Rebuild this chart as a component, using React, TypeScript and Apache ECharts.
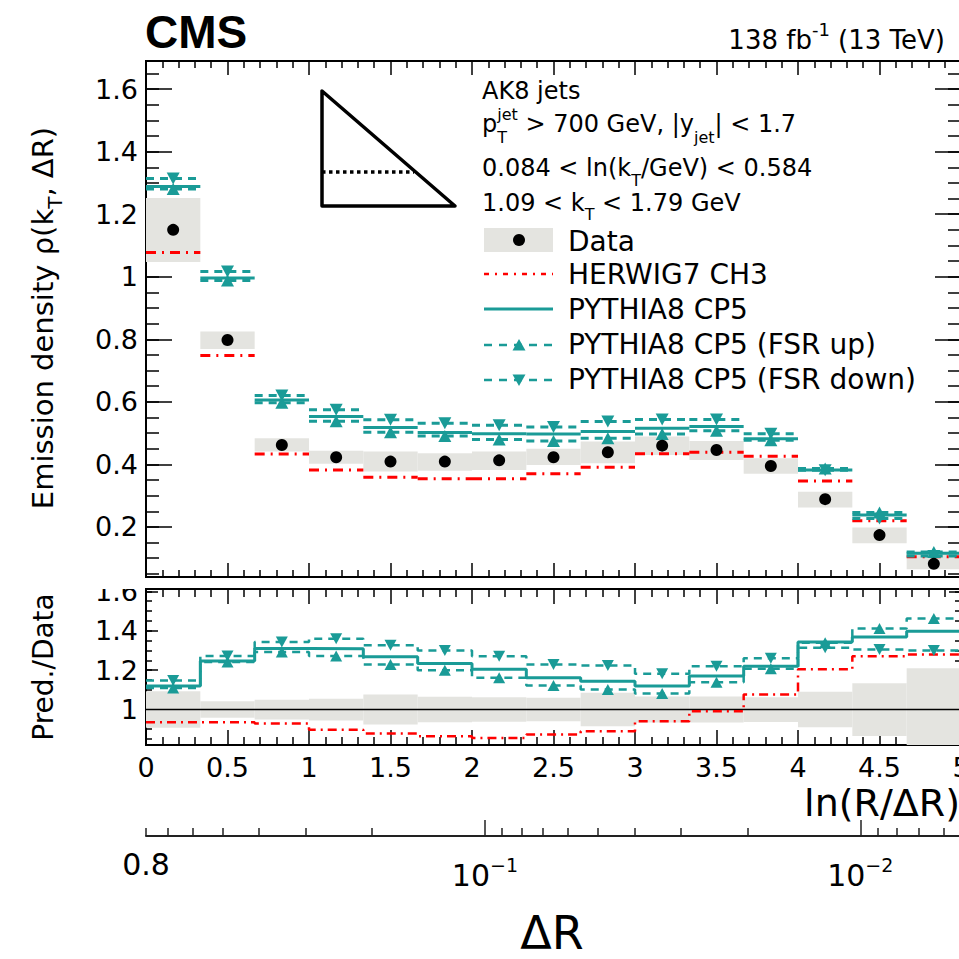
import React, { useEffect, useRef } from "react";
import * as echarts from "echarts";

const FONT = '"DejaVu Sans", sans-serif';
const CMS_FONT = '"Liberation Sans", Arial, sans-serif';
const TEAL = "#1a9b97";
const RED = "#ff0000";
const GREY = "#e4e4e0";

// ---------- data ----------
// bin edges in ln(R/ΔR)
const binEdges = [0, 0.3333, 0.6667, 1, 1.3333, 1.6667, 2, 2.3333, 2.6667, 3, 3.3333, 3.6667, 4, 4.3333, 4.6667, 5];

// upper panel: emission density
const dataVal = [1.150, 0.798, 0.462, 0.423, 0.409, 0.409, 0.413, 0.423, 0.439, 0.460, 0.446, 0.395, 0.289, 0.174, 0.082];
const dataLow = [1.047, 0.769, 0.441, 0.402, 0.377, 0.380, 0.382, 0.398, 0.404, 0.430, 0.414, 0.370, 0.262, 0.148, 0.065];
const dataHigh = [1.252, 0.825, 0.484, 0.444, 0.441, 0.436, 0.441, 0.450, 0.473, 0.489, 0.475, 0.420, 0.313, 0.198, 0.121];
const herwig = [1.078, 0.748, 0.433, 0.382, 0.359, 0.354, 0.354, 0.370, 0.391, 0.434, 0.439, 0.426, 0.347, 0.220, 0.105];
const pythia = [1.289, 0.996, 0.606, 0.553, 0.518, 0.502, 0.498, 0.497, 0.505, 0.516, 0.521, 0.482, 0.382, 0.238, 0.116];
const fsrUp = [1.281, 0.988, 0.597, 0.538, 0.503, 0.491, 0.480, 0.475, 0.484, 0.497, 0.508, 0.477, 0.387, 0.246, 0.120];
const fsrDown = [1.314, 1.017, 0.620, 0.575, 0.543, 0.532, 0.525, 0.520, 0.537, 0.544, 0.544, 0.498, 0.381, 0.227, 0.107];

// lower panel: prediction / data
const ratioUnc = [0.093, 0.042, 0.050, 0.055, 0.076, 0.065, 0.062, 0.060, 0.085, 0.066, 0.066, 0.063, 0.090, 0.134, 0.210];
const ratioHerwig = [0.935, 0.935, 0.929, 0.898, 0.878, 0.864, 0.856, 0.873, 0.890, 0.941, 0.991, 1.076, 1.204, 1.271, 1.280];
const ratioPythia = [1.120, 1.246, 1.310, 1.309, 1.268, 1.234, 1.204, 1.161, 1.144, 1.119, 1.170, 1.220, 1.343, 1.368, 1.398];
const ratioFsrUp = [1.110, 1.241, 1.292, 1.272, 1.229, 1.200, 1.161, 1.122, 1.102, 1.081, 1.139, 1.207, 1.339, 1.411, 1.462];
const ratioFsrDown = [1.148, 1.272, 1.343, 1.360, 1.327, 1.300, 1.271, 1.229, 1.224, 1.182, 1.220, 1.260, 1.314, 1.305, 1.300];

// ticks
const mainYTicks = [0.2, 0.4, 0.6, 0.8, 1.0, 1.2, 1.4, 1.6];
const mainYLabels = ["0.2", "0.4", "0.6", "0.8", "1", "1.2", "1.4", "1.6"];
const ratioYTicks = [1.0, 1.2, 1.4, 1.6];
const ratioYLabels = ["1", "1.2", "1.4", "1.6"];
const JET_R = 0.8;
const deltaRMajor = [0.1, 0.01];
const deltaRMinor = [0.8, 0.7, 0.6, 0.5, 0.4, 0.3, 0.2, 0.09, 0.08, 0.07, 0.06, 0.05, 0.04, 0.03, 0.02, 0.009, 0.008, 0.007, 0.006];
const deltaRLabelVals = [0.8, 0.1, 0.01];
const deltaRLabelBase = ["0.8", "10", "10"];
const deltaRLabelExp = ["", "\u22121", "\u22122"];

const MAIN_Y = [0.04, 1.69];
const RATIO_Y = [0.82, 1.612];

// ---------- helpers ----------
const binCenters = binEdges.slice(0, -1).map((e, i) => (e + binEdges[i + 1]) / 2);
const minorRange = (lo: number, hi: number, step: number) => {
  const out: number[] = [];
  for (let k = Math.ceil(lo / step - 1e-9); k * step <= hi + 1e-9; k++) out.push(+(k * step).toFixed(4));
  return out;
};

let measureCtx: CanvasRenderingContext2D | null = null;
function tw(text: string, size: number, weight = "normal", family = FONT) {
  if (!measureCtx) measureCtx = document.createElement("canvas").getContext("2d");
  measureCtx!.font = `${weight} ${size}px ${family}`;
  return measureCtx!.measureText(text).width;
}

function txt(text: string, x: number, y: number, size: number, align = "left", weight = "normal", family = FONT) {
  return {
    type: "text",
    x,
    y,
    z: 50,
    silent: true,
    style: {
      text,
      fontSize: size,
      fontFamily: family,
      fontWeight: weight,
      fill: "#000",
      align,
      verticalAlign: "middle",
      textAlign: align,
      textVerticalAlign: "middle",
    },
  };
}

type Seg = { t: string; s: number; dy?: number; noAdv?: boolean };
function segEls(segs: Seg[], x: number, y: number, anchor: "left" | "center" | "right") {
  const widths = segs.map((s) => (s.noAdv ? 0 : tw(s.t, s.s)));
  const total = widths.reduce((a, b) => a + b, 0);
  let cx = anchor === "left" ? x : anchor === "right" ? x - total : x - total / 2;
  const els: any[] = [];
  segs.forEach((s, i) => {
    els.push(txt(s.t, cx, y + (s.dy || 0), s.s, "left"));
    cx += widths[i];
  });
  return els;
}

const hlineItem = (color: string, width: number, dash: number[] | null) => (params: any, api: any) => {
  const y = api.value(2);
  const p0 = api.coord([api.value(0), y]);
  const p1 = api.coord([api.value(1), y]);
  return {
    type: "line",
    shape: { x1: p0[0], y1: p0[1], x2: p1[0], y2: p1[1] },
    style: { stroke: color, lineWidth: width, lineDash: dash, fill: null },
  };
};

const rectItem = (params: any, api: any) => {
  const p0 = api.coord([api.value(0), api.value(3)]);
  const p1 = api.coord([api.value(1), api.value(2)]);
  const cs = params.coordSys;
  const r = echarts.graphic.clipRectByRect(
    { x: p0[0], y: p0[1], width: p1[0] - p0[0], height: p1[1] - p0[1] },
    { x: cs.x, y: cs.y, width: cs.width, height: cs.height }
  );
  return r ? { type: "rect", shape: r, style: { fill: GREY } } : null;
};

function yAxisSet(gridIndex: number, range: number[], major: number[], labels: string[], minor: number[], majLen: number, minLen: number) {
  const common = {
    type: "value",
    gridIndex,
    min: range[0],
    max: range[1],
    splitLine: { show: false },
    axisLine: { show: false },
  };
  const tick = (vals: number[], len: number) => ({
    show: true,
    inside: true,
    length: len,
    customValues: vals,
    lineStyle: { color: "#000", width: 1.5 },
  });
  return [
    {
      ...common,
      position: "left",
      axisTick: tick(major, majLen),
      axisLabel: {
        show: true,
        customValues: major,
        formatter: (v: number) => {
          const i = major.findIndex((m) => Math.abs(m - v) < 1e-6);
          return i >= 0 ? labels[i] : "";
        },
        fontFamily: FONT,
        fontSize: 27,
        color: "#000",
        margin: 8,
      },
    },
    { ...common, position: "left", axisTick: tick(minor, minLen), axisLabel: { show: false } },
    { ...common, position: "right", axisTick: tick(major, majLen), axisLabel: { show: false } },
    { ...common, position: "right", axisTick: tick(minor, minLen), axisLabel: { show: false } },
  ];
}

function xAxisPair(gridIndex: number, majLen: number, minLen: number, showLabels: boolean) {
  return ["bottom", "top"].map((pos, k) => ({
    type: "value",
    gridIndex,
    min: 0,
    max: 5,
    interval: 0.5,
    position: pos,
    axisLine: { show: false },
    splitLine: { show: false },
    axisTick: { show: true, inside: true, length: majLen, lineStyle: { color: "#000", width: 1.5 } },
    minorTick: { show: true, splitNumber: 5, length: minLen, lineStyle: { color: "#000", width: 1.5 } },
    axisLabel: {
      show: showLabels && k === 0,
      showMinLabel: true,
      showMaxLabel: true,
      fontFamily: FONT,
      fontSize: 27,
      color: "#000",
      margin: 9,
    },
  }));
}

function buildOption() {
  const boxes = dataVal.map((_, i) => [binEdges[i], binEdges[i + 1], dataLow[i], dataHigh[i]]);
  const ratioBoxes = ratioUnc.map((u, i) => [binEdges[i], binEdges[i + 1], 1 - u, 1 + u]);
  const hl = (vals: number[]) => vals.map((v, i) => [binEdges[i], binEdges[i + 1], v]);
  const step = (vals: number[]) => binEdges.map((e, i) => [e, vals[Math.min(i, vals.length - 1)]]);
  const pts = (vals: number[]) => vals.map((v, i) => [binCenters[i], v]);

  const custom = (xi: number, yi: number, renderItem: any, data: any[], z: number, enc: any) => ({
    type: "custom",
    xAxisIndex: xi,
    yAxisIndex: yi,
    renderItem,
    data,
    encode: enc,
    silent: true,
    clip: true,
    z,
  });
  const stepLine = (vals: number[], color: string, width: number, dash: any, z: number) => ({
    type: "line",
    xAxisIndex: 2,
    yAxisIndex: 4,
    step: "end",
    data: step(vals),
    symbol: "none",
    lineStyle: { color, width, type: dash },
    clip: true,
    silent: true,
    z,
  });
  const markers = (xi: number, yi: number, vals: number[], down: boolean, size: number[]) => ({
    type: "scatter",
    xAxisIndex: xi,
    yAxisIndex: yi,
    data: pts(vals),
    symbol: "triangle",
    symbolSize: size,
    symbolRotate: down ? 180 : 0,
    itemStyle: { color: TEAL, opacity: 1 },
    silent: true,
    z: 6,
  });

  return {
    animation: false,
    backgroundColor: "#fff",
    grid: [
      { left: 146, top: 61, width: 815, height: 516, show: true, borderColor: "#000", borderWidth: 2, backgroundColor: "transparent", containLabel: false, outerBoundsMode: "none" },
      { left: 146, top: 589, width: 815, height: 156, show: true, borderColor: "#000", borderWidth: 2, backgroundColor: "transparent", containLabel: false, outerBoundsMode: "none" },
      { left: 146, top: 835, width: 815, height: 1, show: false, containLabel: false, outerBoundsMode: "none" },
    ],
    xAxis: [
      ...xAxisPair(0, 14, 7, false),
      ...xAxisPair(1, 15, 8, true),
      {
        type: "value",
        gridIndex: 2,
        min: 0,
        max: 5,
        position: "bottom",
        axisLine: { show: true, onZero: false, lineStyle: { color: "#222", width: 2 } },
        splitLine: { show: false },
        axisTick: { show: true, inside: true, length: 16, customValues: deltaRMajor.map((d) => Math.log(JET_R / d)), lineStyle: { color: "#222", width: 1.5 } },
        axisLabel: { show: false },
      },
      {
        type: "value",
        gridIndex: 2,
        min: 0,
        max: 5,
        position: "bottom",
        axisLine: { show: false },
        splitLine: { show: false },
        axisTick: { show: true, inside: true, length: 8, customValues: deltaRMinor.map((d) => Math.log(JET_R / d)), lineStyle: { color: "#222", width: 1.5 } },
        axisLabel: { show: false },
      },
    ],
    yAxis: [
      ...yAxisSet(0, MAIN_Y, mainYTicks, mainYLabels, minorRange(MAIN_Y[0], MAIN_Y[1], 0.05), 26, 13),
      ...yAxisSet(1, RATIO_Y, ratioYTicks, ratioYLabels, minorRange(RATIO_Y[0], RATIO_Y[1], 0.05), 12, 6),
      { type: "value", gridIndex: 2, min: 0, max: 1, show: false },
    ],
    series: [
      // upper panel
      custom(0, 0, rectItem, boxes, 1, { x: [0, 1], y: [2, 3] }),
      custom(0, 0, hlineItem(RED, 3, [10, 6, 2, 6]), hl(herwig), 3, { x: [0, 1], y: 2 }),
      custom(0, 0, hlineItem(TEAL, 3, null), hl(pythia), 4, { x: [0, 1], y: 2 }),
      custom(0, 0, hlineItem(TEAL, 3, [8, 6]), hl(fsrUp), 4, { x: [0, 1], y: 2 }),
      custom(0, 0, hlineItem(TEAL, 3, [8, 6]), hl(fsrDown), 4, { x: [0, 1], y: 2 }),
      markers(0, 0, fsrUp, false, [13, 12]),
      markers(0, 0, fsrDown, true, [13, 12]),
      {
        type: "scatter",
        xAxisIndex: 0,
        yAxisIndex: 0,
        data: pts(dataVal),
        symbol: "circle",
        symbolSize: 12,
        itemStyle: { color: "#000", opacity: 1 },
        silent: true,
        z: 7,
      },
      // lower panel
      custom(2, 4, rectItem, ratioBoxes, 1, { x: [0, 1], y: [2, 3] }),
      custom(2, 4, hlineItem("#000", 1.5, null), [[0, 5, 1]], 2, { x: [0, 1], y: 2 }),
      stepLine(ratioHerwig, RED, 2.5, [9, 5, 2, 5], 3),
      stepLine(ratioPythia, TEAL, 3, "solid", 4),
      stepLine(ratioFsrUp, TEAL, 2.5, [8, 6], 4),
      stepLine(ratioFsrDown, TEAL, 2.5, [8, 6], 4),
      markers(2, 4, ratioFsrUp, false, [12, 11]),
      markers(2, 4, ratioFsrDown, true, [12, 11]),
    ],
  };
}

function buildGraphic(chart: any) {
  const els: any[] = [];
  // header
  els.push(txt("CMS", 145, 32, 46, "left", "bold", CMS_FONT));
  els.push(...segEls([{ t: "138 fb", s: 26 }, { t: "-1", s: 18, dy: -11 }, { t: " (13 TeV)", s: 26 }], 945, 40, "right"));

  // triangle (Lund plane sketch)
  els.push({
    type: "polygon",
    z: 40,
    silent: true,
    shape: { points: [[322, 91], [322, 206], [455, 206]] },
    style: { fill: null, stroke: "#000", lineWidth: 3.5, lineJoin: "round" },
  });
  els.push({
    type: "line",
    z: 40,
    silent: true,
    shape: { x1: 322, y1: 172, x2: 414, y2: 172 },
    style: { stroke: "#000", lineWidth: 3.5, lineDash: [3.5, 3.5] },
  });

  // legend header lines
  const LX = 482;
  els.push(...segEls([{ t: "AK8 jets", s: 24 }], LX, 91, "left"));
  els.push(
    ...segEls(
      [
        { t: "p", s: 24 },
        { t: "T", s: 16, dy: 13, noAdv: true },
        { t: "jet", s: 16, dy: -10 },
        { t: " > 700 GeV, |y", s: 24 },
        { t: "jet", s: 16, dy: 13 },
        { t: "| < 1.7", s: 24 },
      ],
      LX,
      124,
      "left"
    )
  );
  els.push(...segEls([{ t: "0.084 < ln(k", s: 24 }, { t: "T", s: 16, dy: 12 }, { t: "/GeV) < 0.584", s: 24 }], LX, 168, "left"));
  els.push(...segEls([{ t: "1.09 < k", s: 24 }, { t: "T", s: 16, dy: 11 }, { t: " < 1.79 GeV", s: 24 }], LX, 203, "left"));

  // legend entries
  const SX0 = 484, SX1 = 553, SXC = 519, TX = 568;
  els.push({ type: "rect", z: 40, silent: true, shape: { x: SX0, y: 228, width: SX1 - SX0, height: 24 }, style: { fill: GREY } });
  els.push({ type: "circle", z: 41, silent: true, shape: { cx: SXC, cy: 240, r: 6 }, style: { fill: "#000" } });
  els.push(txt("Data", TX, 241, 28));
  els.push({ type: "line", z: 40, silent: true, shape: { x1: SX0, y1: 274, x2: SX1, y2: 274 }, style: { stroke: RED, lineWidth: 2.5, lineDash: [5, 6, 2, 6] } });
  els.push(txt("HERWIG7 CH3", TX, 274, 28));
  els.push({ type: "line", z: 40, silent: true, shape: { x1: SX0, y1: 309, x2: SX1, y2: 309 }, style: { stroke: TEAL, lineWidth: 3 } });
  els.push(txt("PYTHIA8 CP5", TX, 309, 28));
  const tri = (cy: number, down: boolean) => ({
    type: "polygon",
    z: 41,
    silent: true,
    shape: {
      points: down
        ? [[SXC - 6.5, cy - 5.5], [SXC + 6.5, cy - 5.5], [SXC, cy + 6]]
        : [[SXC - 6.5, cy + 5.5], [SXC + 6.5, cy + 5.5], [SXC, cy - 6]],
    },
    style: { fill: TEAL },
  });
  els.push({ type: "line", z: 40, silent: true, shape: { x1: SX0, y1: 345, x2: SX1, y2: 345 }, style: { stroke: TEAL, lineWidth: 2.5, lineDash: [8, 7] } });
  els.push(tri(345, false));
  els.push(txt("PYTHIA8 CP5 (FSR up)", TX, 344, 28));
  els.push({ type: "line", z: 40, silent: true, shape: { x1: SX0, y1: 380, x2: SX1, y2: 380 }, style: { stroke: TEAL, lineWidth: 2.5, lineDash: [8, 7] } });
  els.push(tri(380, true));
  els.push(txt("PYTHIA8 CP5 (FSR down)", TX, 379, 28));

  // y-axis titles (rotated)
  els.push({
    type: "group",
    x: 43,
    y: 318,
    rotation: Math.PI / 2,
    children: segEls([{ t: "Emission density \u03C1(k", s: 29 }, { t: "T", s: 20, dy: 12 }, { t: ", \u0394R)", s: 29 }], 0, 0, "center"),
  });
  els.push({
    type: "group",
    x: 43,
    y: 667,
    rotation: Math.PI / 2,
    children: segEls([{ t: "Pred./Data", s: 28 }], 0, 0, "center"),
  });

  // hide top part of the clipped "1.6" label of the ratio panel (pad overlap)
  els.push({ type: "rect", z: 100, silent: true, shape: { x: 86, y: 570, width: 57, height: 19 }, style: { fill: "#fff" } });

  // x titles
  els.push(txt("ln(R/\u0394R)", 960, 803, 38, "right"));
  els.push(txt("\u0394R", 552, 933, 46, "center"));

  // secondary ΔR axis labels, placed through the axis scale
  deltaRLabelVals.forEach((d, i) => {
    const px = chart.convertToPixel({ xAxisIndex: 4 }, Math.log(JET_R / d));
    if (deltaRLabelExp[i]) {
      els.push(...segEls([{ t: deltaRLabelBase[i], s: 30 }, { t: deltaRLabelExp[i], s: 19, dy: -10 }], px, 875, "center"));
    } else {
      els.push(...segEls([{ t: deltaRLabelBase[i], s: 30 }], px, 864, "center"));
    }
  });
  return els;
}

export default function App() {
  const ref = useRef<HTMLDivElement>(null);
  useEffect(() => {
    document.body.style.margin = "0";
    if (!ref.current) return;
    const chart = echarts.init(ref.current, null, { renderer: "svg" });
    chart.setOption(buildOption() as any);
    chart.setOption({ graphic: { elements: buildGraphic(chart) } } as any);
    return () => chart.dispose();
  }, []);
  return <div ref={ref} style={{ position: "absolute", left: 0, top: 0, width: 959, height: 959, background: "#fff" }} />;
}
